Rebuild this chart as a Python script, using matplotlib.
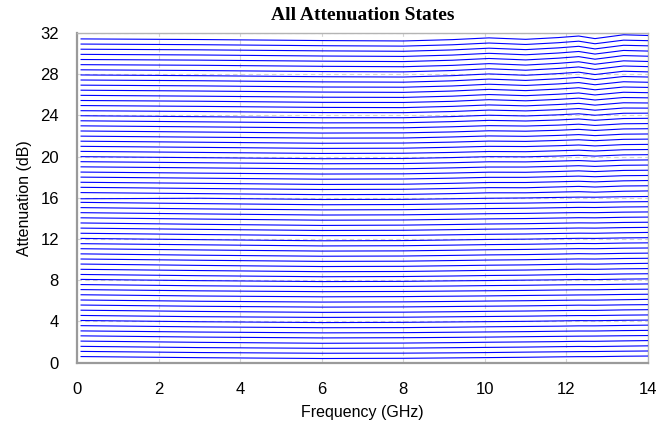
import matplotlib
matplotlib.use("Agg")
import matplotlib.pyplot as plt

# ── data ──────────────────────────────────────────────────────────────────────
FREQ = [0.1, 3.0, 6.0, 8.0, 9.2, 10.1, 11.0, 11.8, 12.3, 12.7, 13.4, 14.0]   # GHz

# measured attenuation (dB) per state, one row per state (0.5 .. 31.5 dB)
ATTEN = [
    [0.58, 0.47, 0.39, 0.41, 0.45, 0.48, 0.51, 0.55, 0.57, 0.57, 0.61, 0.63],
    [1.08, 0.97, 0.90, 0.91, 0.94, 0.97, 1.01, 1.04, 1.06, 1.07, 1.10, 1.12],
    [1.57, 1.45, 1.38, 1.40, 1.44, 1.47, 1.50, 1.54, 1.56, 1.55, 1.59, 1.62],
    [2.08, 1.96, 1.87, 1.89, 1.93, 1.97, 2.00, 2.03, 2.06, 2.06, 2.10, 2.13],
    [2.59, 2.47, 2.39, 2.41, 2.44, 2.47, 2.51, 2.54, 2.56, 2.57, 2.60, 2.62],
    [3.07, 2.96, 2.88, 2.90, 2.94, 2.97, 3.00, 3.04, 3.06, 3.06, 3.10, 3.12],
    [3.58, 3.46, 3.38, 3.39, 3.43, 3.47, 3.50, 3.53, 3.56, 3.56, 3.60, 3.63],
    [4.08, 3.96, 3.88, 3.90, 3.94, 3.97, 4.00, 4.04, 4.07, 4.06, 4.10, 4.12],
    [4.57, 4.45, 4.38, 4.40, 4.44, 4.47, 4.50, 4.54, 4.56, 4.56, 4.60, 4.62],
    [5.08, 4.96, 4.87, 4.89, 4.93, 4.97, 5.00, 5.04, 5.06, 5.06, 5.11, 5.13],
    [5.58, 5.46, 5.38, 5.40, 5.44, 5.47, 5.50, 5.54, 5.57, 5.56, 5.60, 5.62],
    [6.07, 5.95, 5.87, 5.89, 5.93, 5.97, 6.00, 6.04, 6.06, 6.06, 6.10, 6.13],
    [6.58, 6.46, 6.38, 6.40, 6.44, 6.47, 6.51, 6.54, 6.56, 6.57, 6.61, 6.63],
    [7.08, 6.96, 6.88, 6.90, 6.94, 6.97, 7.00, 7.04, 7.06, 7.06, 7.10, 7.12],
    [7.57, 7.45, 7.37, 7.39, 7.43, 7.47, 7.50, 7.54, 7.56, 7.56, 7.60, 7.63],
    [8.07, 7.95, 7.86, 7.88, 7.93, 7.96, 8.00, 8.03, 8.06, 8.05, 8.10, 8.12],
    [8.55, 8.43, 8.33, 8.35, 8.40, 8.45, 8.48, 8.53, 8.56, 8.55, 8.60, 8.62],
    [9.05, 8.93, 8.82, 8.84, 8.90, 8.95, 8.98, 9.03, 9.06, 9.05, 9.10, 9.12],
    [9.56, 9.43, 9.32, 9.34, 9.40, 9.45, 9.48, 9.53, 9.56, 9.55, 9.60, 9.63],
    [10.05, 9.93, 9.82, 9.84, 9.90, 9.95, 9.98, 10.03, 10.06, 10.05, 10.10, 10.12],
    [10.55, 10.42, 10.32, 10.34, 10.40, 10.45, 10.48, 10.53, 10.57, 10.55, 10.60, 10.62],
    [11.05, 10.93, 10.82, 10.84, 10.90, 10.95, 10.98, 11.03, 11.06, 11.05, 11.10, 11.12],
    [11.54, 11.43, 11.32, 11.34, 11.40, 11.45, 11.48, 11.53, 11.56, 11.55, 11.60, 11.62],
    [12.05, 11.93, 11.82, 11.84, 11.90, 11.95, 11.98, 12.03, 12.06, 12.05, 12.10, 12.12],
    [12.55, 12.43, 12.32, 12.34, 12.40, 12.45, 12.48, 12.53, 12.56, 12.55, 12.60, 12.63],
    [13.05, 12.93, 12.82, 12.84, 12.90, 12.95, 12.98, 13.03, 13.06, 13.05, 13.10, 13.12],
    [13.55, 13.42, 13.31, 13.34, 13.40, 13.45, 13.48, 13.53, 13.56, 13.55, 13.60, 13.62],
    [14.05, 13.93, 13.82, 13.84, 13.90, 13.95, 13.98, 14.03, 14.06, 14.05, 14.10, 14.12],
    [14.55, 14.43, 14.32, 14.34, 14.40, 14.45, 14.48, 14.53, 14.56, 14.55, 14.60, 14.62],
    [15.04, 14.92, 14.82, 14.84, 14.90, 14.95, 14.98, 15.03, 15.06, 15.05, 15.10, 15.12],
    [15.55, 15.43, 15.32, 15.34, 15.40, 15.45, 15.48, 15.53, 15.56, 15.55, 15.60, 15.62],
    [15.90, 15.95, 15.83, 15.84, 15.90, 15.95, 15.98, 16.03, 16.06, 16.05, 16.10, 16.12],
    [16.50, 16.40, 16.30, 16.32, 16.40, 16.48, 16.48, 16.55, 16.59, 16.54, 16.63, 16.66],
    [17.01, 16.90, 16.80, 16.82, 16.90, 16.98, 16.97, 17.05, 17.10, 17.04, 17.14, 17.16],
    [17.50, 17.40, 17.29, 17.31, 17.40, 17.48, 17.48, 17.55, 17.60, 17.54, 17.64, 17.67],
    [18.00, 17.90, 17.80, 17.82, 17.90, 17.98, 17.98, 18.05, 18.10, 18.04, 18.14, 18.16],
    [18.49, 18.39, 18.30, 18.32, 18.40, 18.48, 18.47, 18.55, 18.61, 18.54, 18.65, 18.67],
    [19.00, 18.90, 18.80, 18.81, 18.90, 18.98, 18.98, 19.05, 19.11, 19.04, 19.15, 19.17],
    [19.50, 19.40, 19.30, 19.32, 19.40, 19.49, 19.48, 19.56, 19.61, 19.54, 19.65, 19.67],
    [19.99, 19.89, 19.79, 19.81, 19.90, 19.99, 19.97, 20.05, 20.12, 20.04, 20.16, 20.18],
    [20.50, 20.40, 20.30, 20.32, 20.40, 20.49, 20.47, 20.56, 20.62, 20.54, 20.66, 20.68],
    [20.99, 20.89, 20.79, 20.81, 20.90, 20.99, 20.97, 21.05, 21.12, 21.03, 21.16, 21.18],
    [21.49, 21.39, 21.29, 21.31, 21.40, 21.50, 21.47, 21.56, 21.63, 21.54, 21.67, 21.69],
    [21.98, 21.88, 21.79, 21.80, 21.90, 22.00, 21.96, 22.05, 22.13, 22.03, 22.17, 22.19],
    [22.48, 22.38, 22.28, 22.30, 22.39, 22.50, 22.46, 22.55, 22.64, 22.53, 22.68, 22.70],
    [22.98, 22.88, 22.78, 22.79, 22.89, 23.00, 22.96, 23.05, 23.14, 23.02, 23.18, 23.20],
    [23.47, 23.37, 23.27, 23.28, 23.39, 23.51, 23.45, 23.55, 23.65, 23.52, 23.69, 23.71],
    [23.96, 23.87, 23.77, 23.77, 23.88, 24.01, 23.94, 24.05, 24.15, 24.01, 24.20, 24.21],
    [24.45, 24.37, 24.27, 24.26, 24.37, 24.51, 24.43, 24.55, 24.66, 24.50, 24.71, 24.70],
    [24.95, 24.87, 24.77, 24.75, 24.87, 25.01, 24.92, 25.05, 25.16, 24.99, 25.22, 25.20],
    [25.44, 25.37, 25.26, 25.25, 25.36, 25.52, 25.41, 25.55, 25.67, 25.49, 25.73, 25.70],
    [25.94, 25.86, 25.76, 25.74, 25.86, 26.02, 25.91, 26.05, 26.17, 25.98, 26.24, 26.20],
    [26.44, 26.36, 26.26, 26.23, 26.36, 26.52, 26.40, 26.55, 26.68, 26.48, 26.75, 26.71],
    [26.93, 26.86, 26.75, 26.73, 26.85, 27.02, 26.90, 27.05, 27.18, 26.97, 27.26, 27.21],
    [27.43, 27.36, 27.25, 27.22, 27.35, 27.52, 27.39, 27.55, 27.69, 27.47, 27.77, 27.72],
    [27.92, 27.85, 27.75, 27.72, 27.85, 28.02, 27.89, 28.05, 28.19, 27.96, 28.28, 28.22],
    [28.42, 28.35, 28.25, 28.22, 28.35, 28.52, 28.38, 28.55, 28.70, 28.46, 28.79, 28.73],
    [28.92, 28.86, 28.76, 28.72, 28.85, 29.02, 28.88, 29.05, 29.20, 28.96, 29.29, 29.23],
    [29.42, 29.36, 29.26, 29.22, 29.35, 29.52, 29.38, 29.55, 29.70, 29.45, 29.80, 29.74],
    [29.92, 29.86, 29.76, 29.72, 29.85, 30.02, 29.88, 30.05, 30.20, 29.95, 30.30, 30.24],
    [30.42, 30.36, 30.26, 30.22, 30.35, 30.52, 30.38, 30.55, 30.70, 30.45, 30.80, 30.75],
    [30.92, 30.86, 30.76, 30.72, 30.85, 31.02, 30.88, 31.05, 31.20, 30.95, 31.30, 31.25],
    [31.42, 31.36, 31.26, 31.22, 31.35, 31.52, 31.38, 31.55, 31.70, 31.45, 31.82, 31.75],
]

X_TICKS = [0, 2, 4, 6, 8, 10, 12, 14]
Y_TICKS = [0, 4, 8, 12, 16, 20, 24, 28, 32]

# ── figure ────────────────────────────────────────────────────────────────────
plt.rcParams["font.family"] = ["Liberation Sans", "DejaVu Sans"]

fig = plt.figure(figsize=(6.72, 4.25), dpi=100)
ax = fig.add_axes([0.1146, 0.147, 0.8497, 0.7755])

for row in ATTEN:
    ax.plot(FREQ, row, color="#0000ff", lw=0.8, zorder=3)

ax.set_xlim(0, 14)
ax.set_ylim(0, 32)
ax.set_xticks(X_TICKS)
ax.set_yticks(Y_TICKS)
ax.tick_params(length=0, labelsize=12, pad=14)
ax.tick_params(axis="y", pad=13)

ax.grid(True, color="#d4d4d4", ls=(0, (4, 3)), lw=0.8)
ax.set_axisbelow(True)

for side in ("left", "bottom"):
    ax.spines[side].set_color("#9a9a9a")
    ax.spines[side].set_linewidth(1.6)
for side in ("top", "right"):
    ax.spines[side].set_color("#b4b4b4")
    ax.spines[side].set_linewidth(1.0)

ax.set_xlabel("Frequency (GHz)", fontsize=11.5, labelpad=6)
ax.set_ylabel("Attenuation (dB)", fontsize=11.5, labelpad=6)
ax.set_title("All Attenuation States", fontsize=14, fontweight="bold",
             family=["Liberation Serif", "DejaVu Serif"], pad=9)

fig.savefig("out.png", dpi=100)
plt.close(fig)
